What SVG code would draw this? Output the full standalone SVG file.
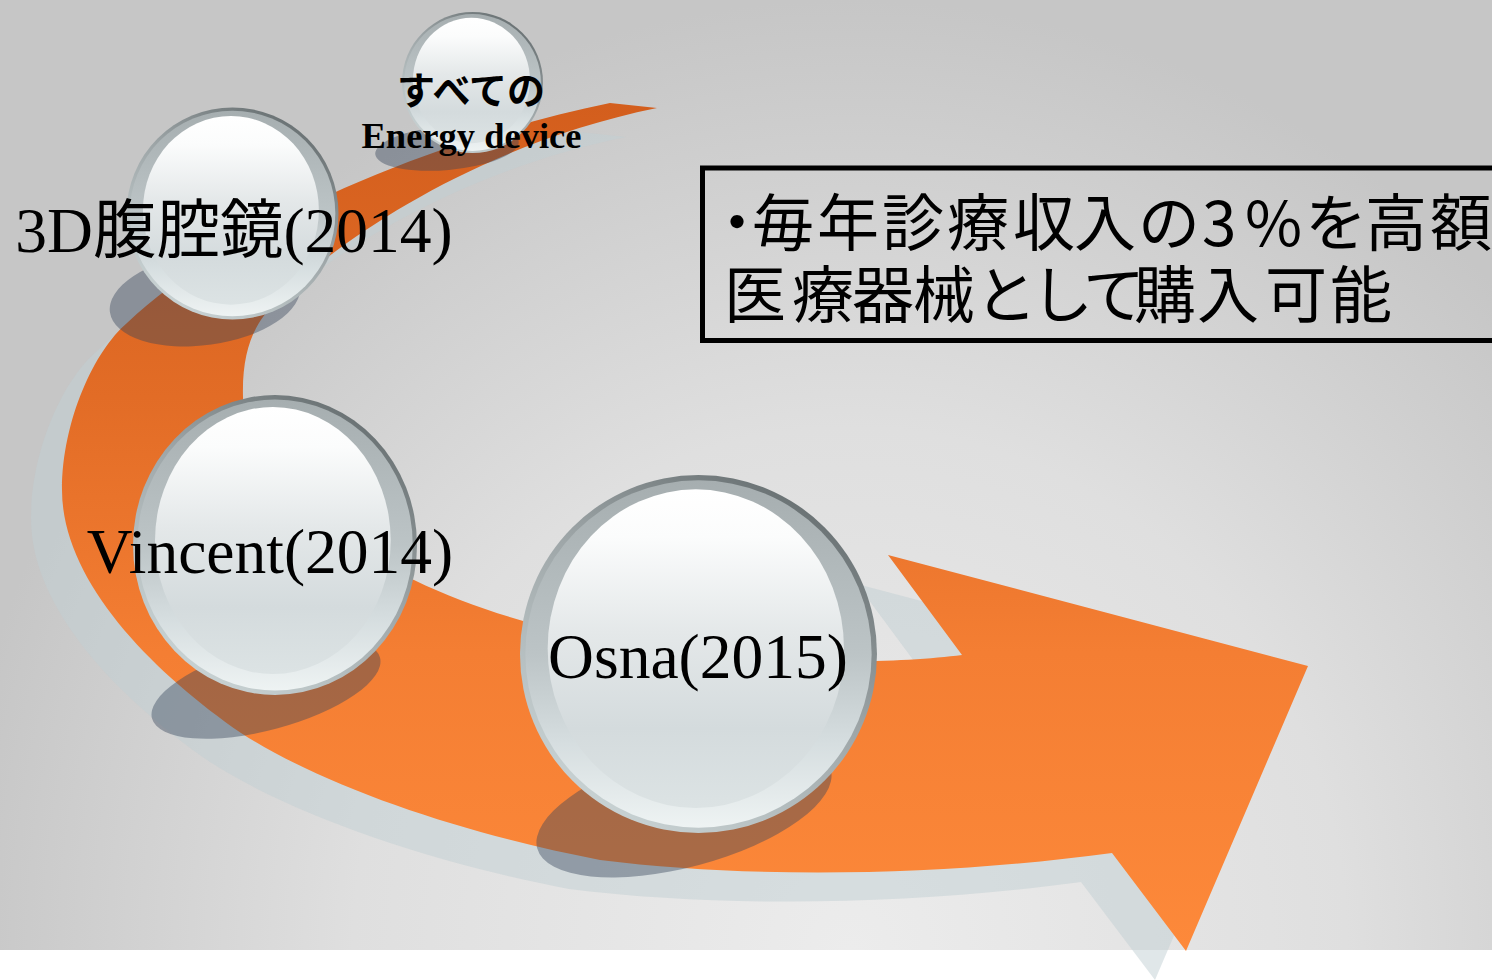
<svg xmlns="http://www.w3.org/2000/svg" xmlns:xlink="http://www.w3.org/1999/xlink" width="1492" height="980" viewBox="0 0 1492 980">
  <style>
    .serif { font-family: "Liberation Serif", "Noto Sans CJK JP", serif; font-size: 63.5px; fill: #000; text-anchor: middle; }
    .small { font-family: "Liberation Serif", serif; font-size: 36.5px; font-weight: bold; fill: #000; text-anchor: middle; }
    .kana { font-family: "Noto Sans CJK JP", sans-serif; font-size: 38px; font-weight: bold; fill: #000; text-anchor: middle; }
    .note { font-family: "Noto Sans CJK JP", "Liberation Sans", sans-serif; font-size: 62px; fill: #000; }
    .drop { fill: rgb(55,68,90); fill-opacity: 0.42; }
  </style>
  <defs>
    <radialGradient id="bg" gradientUnits="userSpaceOnUse" cx="850" cy="950" r="950" gradientTransform="translate(850 950) scale(0.95 1) translate(-850 -950)">
      <stop offset="0" stop-color="#ececec"/>
      <stop offset="0.55" stop-color="#dfdfdf"/>
      <stop offset="1" stop-color="#c6c6c6"/>
    </radialGradient>
    <linearGradient id="orange" gradientUnits="userSpaceOnUse" x1="0" y1="100" x2="0" y2="950">
      <stop offset="0" stop-color="#d35e1d"/>
      <stop offset="0.35" stop-color="#e26c26"/>
      <stop offset="0.65" stop-color="#f47e33"/>
      <stop offset="1" stop-color="#fd893a"/>
    </linearGradient>
    <linearGradient id="gRim" x1="0.85" y1="0" x2="0.2" y2="1">
      <stop offset="0" stop-color="#5f6769"/>
      <stop offset="0.45" stop-color="#9da5a7"/>
      <stop offset="1" stop-color="#cdd7d8"/>
    </linearGradient>
    <linearGradient id="gBand" x1="0" y1="0" x2="0" y2="1">
      <stop offset="0" stop-color="#a6aeb0"/>
      <stop offset="0.5" stop-color="#bcc4c6"/>
      <stop offset="0.75" stop-color="#d5dddf"/>
      <stop offset="1" stop-color="#eef3f3"/>
    </linearGradient>
    <linearGradient id="gCore" x1="0" y1="0" x2="0" y2="1">
      <stop offset="0" stop-color="#ffffff"/>
      <stop offset="0.15" stop-color="#fbfcfc"/>
      <stop offset="0.45" stop-color="#e4e8e9"/>
      <stop offset="0.75" stop-color="#d4dbdd"/>
      <stop offset="1" stop-color="#dce3e4"/>
    </linearGradient>
    <!-- glass sphere, drawn in a 200x200 box -->
    <symbol id="glass" viewBox="-100 -100 200 200" preserveAspectRatio="none" overflow="visible">
      <circle r="100" fill="url(#gRim)"/>
      <circle r="97" fill="url(#gBand)"/>
      <ellipse cx="-1.5" cy="-3" rx="83" ry="89" fill="url(#gCore)"/>
    </symbol>
    <path id="arrowShape" d="M 610,103 C 430,140 230,225 127,323 C 95,350 62,420 62,490 C 62,580 150,670 241,733 C 330,790 470,835 600,860 C 760,880 950,875 1112,853 L 1186,951 L 1308,666 L 888,555 L 962,655 C 860,668 600,670 414,580 C 330,545 245,480 243,397 C 242,360 250,335 263,317 C 300,270 450,150 657,108 Z"/>
  </defs>

  <!-- backdrop -->
  <rect x="0" y="0" width="1492" height="950" fill="url(#bg)"/>
  <rect x="0" y="950" width="1492" height="30" fill="#ffffff"/>

  <!-- curved timeline arrow -->
  <g id="connectors">
    <use xlink:href="#arrowShape" transform="translate(-31 29)" fill="rgb(193,207,211)" fill-opacity="0.5"/>
    <use xlink:href="#arrowShape" fill="url(#orange)"/>
  </g>

  <g id="node-energy">
    <ellipse class="drop" cx="447" cy="148" rx="72" ry="22" transform="rotate(-5 447 148)"/>
    <use xlink:href="#glass" x="402" y="12" width="141" height="141"/>
    <text class="kana" x="471" y="104">すべての</text>
    <text class="small" x="471.5" y="148">Energy device</text>
  </g>

  <g id="node-3d">
    <ellipse class="drop" cx="205" cy="299" rx="96" ry="46" transform="rotate(-8 205 299)"/>
    <use xlink:href="#glass" x="126.5" y="107.5" width="212" height="212"/>
    <text class="serif" x="234" y="252">3D腹腔鏡(2014)</text>
  </g>

  <g id="node-vincent">
    <ellipse class="drop" cx="266" cy="688" rx="118" ry="42" transform="rotate(-15 266 688)"/>
    <use xlink:href="#glass" x="133" y="395" width="284" height="300"/>
    <text class="serif" x="270" y="573">Vincent(2014)</text>
  </g>

  <g id="node-osna">
    <ellipse class="drop" cx="684" cy="809" rx="152" ry="58" transform="rotate(-15 684 809)"/>
    <use xlink:href="#glass" x="520" y="475" width="357" height="358"/>
    <text class="serif" x="698" y="678">Osna(2015)</text>
  </g>

  <g id="node-note">
    <rect x="702.5" y="168" width="800" height="172.5" fill="none" stroke="#000" stroke-width="5"/>
    <text class="note">
      <tspan x="706 752 817 882 947 1013 1074 1138 1202 1245 1305 1365 1430" y="246">・毎年診療収入の3%を高額</tspan>
      <tspan x="724 792 852 913 975 1031 1083 1134 1197 1265 1330" y="318">医療器械として購入可能</tspan>
    </text>
  </g>
</svg>
